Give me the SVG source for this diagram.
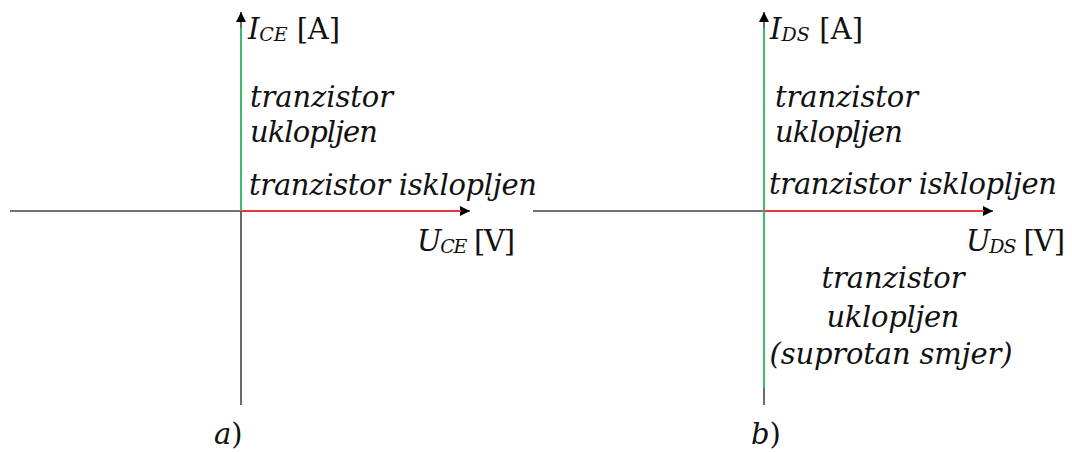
<svg xmlns="http://www.w3.org/2000/svg" width="1072" height="452" viewBox="0 0 1072 452">
<style>
.ax{stroke:#444;stroke-width:1.6;fill:none}
.gr{stroke:#3dbb6e;stroke-width:2;fill:none}
.rd{stroke:#e8353a;stroke-width:2;fill:none}
.t{font-family:"DejaVu Serif","Liberation Serif",serif;font-style:italic;font-size:29px;fill:#111}
.r{font-style:normal}
.sub{font-size:19px}
</style>
<defs>
<marker id="ah" viewBox="0 0 10 10" refX="10" refY="5" markerWidth="10" markerHeight="10" markerUnits="userSpaceOnUse" orient="auto">
<path d="M0,0 L10,5 L0,10 z" fill="#000"/>
</marker>
</defs>
<rect width="1072" height="452" fill="#fff"/>
<g id="connectors">
<line class="ax" x1="10" y1="211" x2="470" y2="211" marker-end="url(#ah)"/>
<line class="ax" x1="241" y1="405" x2="241" y2="12" marker-end="url(#ah)"/>
<line class="gr" x1="241" y1="28" x2="241" y2="211"/>
<line class="rd" x1="241" y1="211" x2="461" y2="211"/>
<line class="ax" x1="533" y1="211" x2="993" y2="211" marker-end="url(#ah)"/>
<line class="ax" x1="764" y1="405" x2="764" y2="12" marker-end="url(#ah)"/>
<line class="gr" x1="764" y1="28" x2="764" y2="388"/>
<line class="rd" x1="764" y1="211" x2="984" y2="211"/>
</g>
<g id="label-ice"><text class="t" x="248" y="39" textLength="92">I<tspan class="sub" dy="2">CE</tspan><tspan class="r" dy="-2"> [A]</tspan></text></g>
<g id="label-on-a"><text class="t" x="250" y="107" textLength="143">tranzistor</text><text class="t" x="250" y="142" textLength="128">uklopljen</text></g>
<g id="label-off-a"><text class="t" x="249" y="195" textLength="288">tranzistor isklopljen</text></g>
<g id="label-uce"><text class="t" x="417" y="251" textLength="98">U<tspan class="sub" dy="2">CE</tspan><tspan class="r" dy="-2"> [V]</tspan></text></g>
<g id="label-ids"><text class="t" x="770" y="39" textLength="93">I<tspan class="sub" dy="2">DS</tspan><tspan class="r" dy="-2"> [A]</tspan></text></g>
<g id="label-on-b"><text class="t" x="775" y="107" textLength="143">tranzistor</text><text class="t" x="775" y="142" textLength="128">uklopljen</text></g>
<g id="label-off-b"><text class="t" x="769" y="194" textLength="288">tranzistor isklopljen</text></g>
<g id="label-uds"><text class="t" x="966" y="251" textLength="99">U<tspan class="sub" dy="2">DS</tspan><tspan class="r" dy="-2"> [V]</tspan></text></g>
<g id="label-rev"><text class="t" x="893" y="288" text-anchor="middle" textLength="143">tranzistor</text><text class="t" x="893" y="327" text-anchor="middle" textLength="133">uklopljen</text><text class="t" x="891" y="364" text-anchor="middle" textLength="243">(suprotan smjer)</text></g>
<g id="label-a"><text class="t" x="214" y="444" font-size="31">a<tspan class="r">)</tspan></text></g>
<g id="label-b"><text class="t" x="751" y="444" font-size="31">b<tspan class="r">)</tspan></text></g>
</svg>
